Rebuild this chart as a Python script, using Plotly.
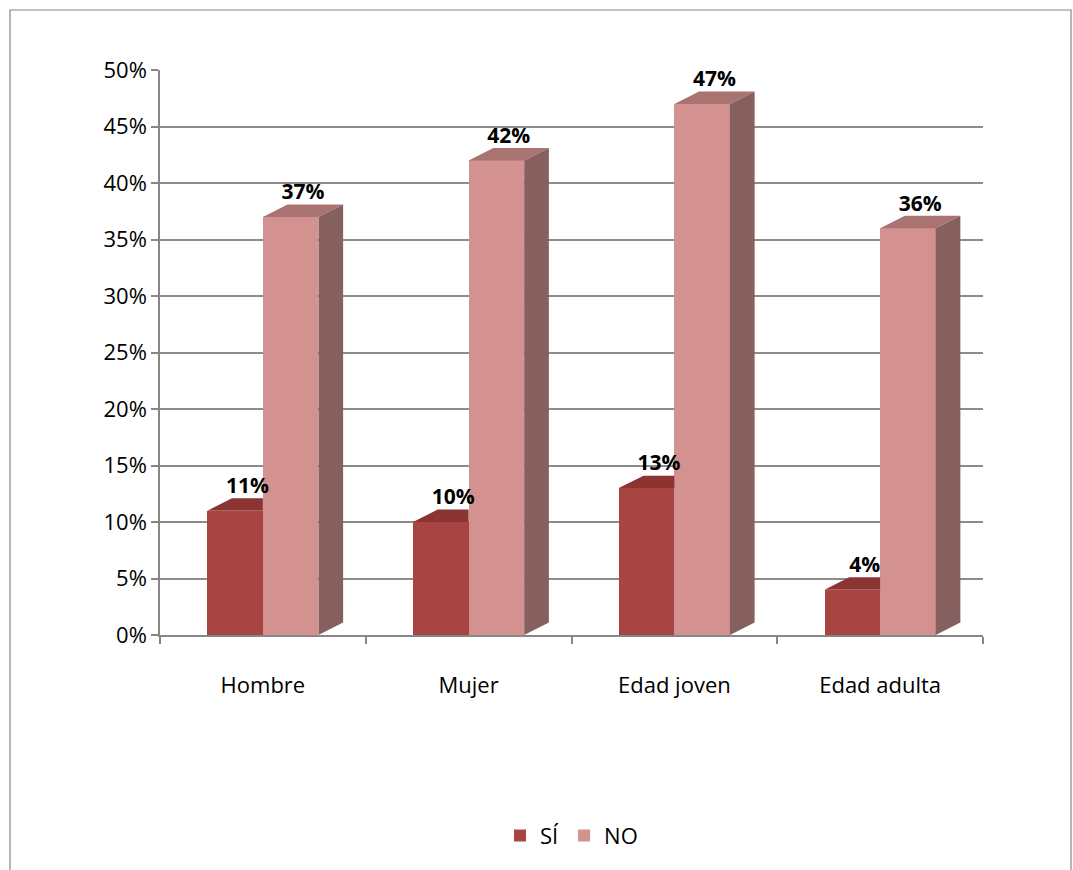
import plotly.graph_objects as go

categories = ["Hombre", "Mujer", "Edad joven", "Edad adulta"]
si_values = [0.11, 0.10, 0.13, 0.04]
no_values = [0.37, 0.42, 0.47, 0.36]
si_labels = ["11%", "10%", "13%", "4%"]
no_labels = ["37%", "42%", "47%", "36%"]
y_ticks = [0, 0.05, 0.10, 0.15, 0.20, 0.25, 0.30, 0.35, 0.40, 0.45, 0.50]
y_ticklabels = ["0%", "5%", "10%", "15%", "20%", "25%", "30%", "35%", "40%", "45%", "50%"]

SI_FRONT, SI_TOP = "#A84542", "#8B3432"
NO_FRONT, NO_TOP, NO_SIDE = "#D39190", "#A87371", "#85605E"

W = 0.27      # bar width (category units)
DX = 0.12     # depth offset in x
DY = 0.011    # depth offset in y
xs = list(range(len(categories)))
si_x = [i - W / 2 for i in xs]
no_x = [i + W / 2 for i in xs]

fig = go.Figure()
fig.add_trace(go.Bar(x=si_x, y=si_values, width=W, name="SÍ", marker_color=SI_FRONT,
                     marker_line_width=0, hoverinfo="skip"))
fig.add_trace(go.Bar(x=no_x, y=no_values, width=W, name="NO", marker_color=NO_FRONT,
                     marker_line_width=0, hoverinfo="skip"))

# pseudo-3D faces
for cx, v in zip(si_x, si_values):
    x0, x1 = cx - W / 2, cx + W / 2
    fig.add_trace(go.Scatter(x=[x0, x0 + DX, x1, x1, x0], y=[v, v + DY, v + DY, v, v],
                             fill="toself", fillcolor=SI_TOP, line=dict(width=0),
                             mode="lines", showlegend=False, hoverinfo="skip"))
for cx, v in zip(no_x, no_values):
    x0, x1 = cx - W / 2, cx + W / 2
    fig.add_trace(go.Scatter(x=[x0, x0 + DX, x1 + DX, x1, x0], y=[v, v + DY, v + DY, v, v],
                             fill="toself", fillcolor=NO_TOP, line=dict(width=0),
                             mode="lines", showlegend=False, hoverinfo="skip"))
    fig.add_trace(go.Scatter(x=[x1, x1 + DX, x1 + DX, x1, x1], y=[0, DY, v + DY, v, 0],
                             fill="toself", fillcolor=NO_SIDE, line=dict(width=0),
                             mode="lines", showlegend=False, hoverinfo="skip"))

# value labels
label_font = dict(family="Open Sans", size=21, color="black", weight="bold")
fig.add_trace(go.Scatter(x=[c + DX / 2 for c in si_x], y=[v + DY for v in si_values],
                         text=si_labels, mode="text", textposition="top center",
                         textfont=label_font, showlegend=False, hoverinfo="skip"))
fig.add_trace(go.Scatter(x=[c + DX / 2 for c in no_x], y=[v + DY for v in no_values],
                         text=no_labels, mode="text", textposition="top center",
                         textfont=label_font, showlegend=False, hoverinfo="skip"))

L, R, T, B = 160, 90, 70, 235
PW = 1073 - L - R
PH = 870 - T - B
fig.add_shape(type="rect", xref="paper", yref="paper",
              x0=(10 - L) / PW, x1=(1071 - L) / PW,
              y0=-(870 - B) / PH - 0.02, y1=(870 - B - 10) / PH,
              line=dict(color="#868686", width=1.2), fillcolor="rgba(0,0,0,0)", layer="below")

fig.update_layout(
    width=1073, height=870,
    margin=dict(l=L, r=R, t=T, b=B),
    paper_bgcolor="white", plot_bgcolor="white",
    barmode="overlay", bargap=0,
    font=dict(family="Open Sans", size=22, color="black"),
    xaxis=dict(range=[-0.5, 3.5], tickvals=xs, ticktext=categories, ticks="",
               showgrid=False, zeroline=False, showline=True, linecolor="#868686", linewidth=1.5,
               tickfont=dict(size=22), ticklabelstandoff=30,
               minor=dict(tickvals=[-0.5, 0.5, 1.5, 2.5, 3.5], ticks="outside", ticklen=7,
                          tickcolor="#868686", tickwidth=1.5, showgrid=False)),
    yaxis=dict(range=[0, 0.5], tickvals=y_ticks, ticktext=y_ticklabels, ticks="outside",
               ticklen=7, tickcolor="#868686", tickwidth=1.5,
               showgrid=True, gridcolor="#8C8C8C", gridwidth=1.5, zeroline=False,
               showline=True, linecolor="#868686", linewidth=1.5, tickfont=dict(size=22)),
    legend=dict(orientation="h", x=0.5, xanchor="center", y=-0.355, yanchor="middle",
                font=dict(size=22), itemwidth=30, traceorder="normal"),
)

fig.write_html("out.html")
